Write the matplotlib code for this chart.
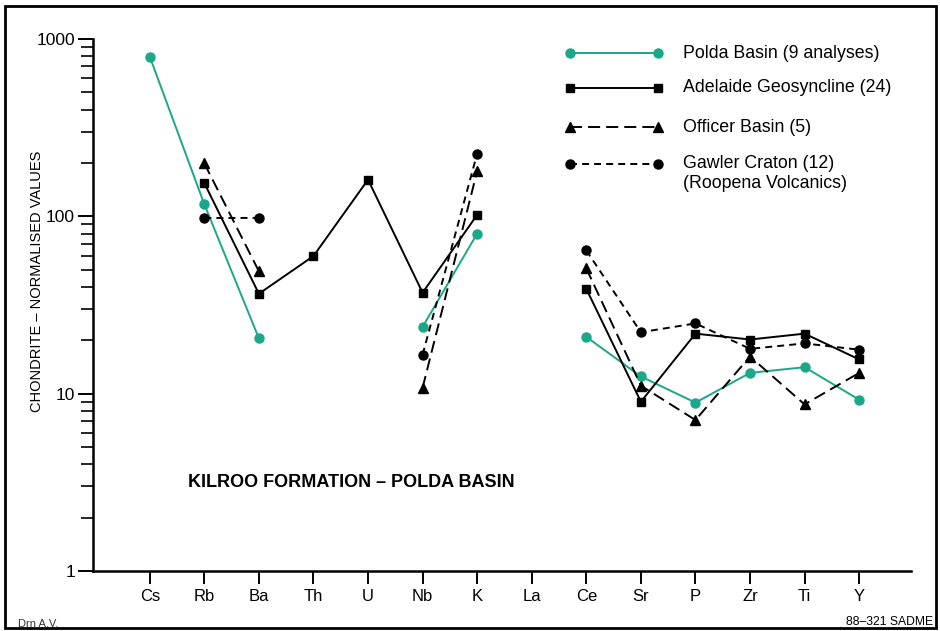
import numpy as np
import matplotlib
matplotlib.use('Agg')
import matplotlib.pyplot as plt
from matplotlib.patches import Rectangle
from matplotlib.lines import Line2D

nan = np.nan

# элементы по оси X
elements = ['Cs', 'Rb', 'Ba', 'Th', 'U', 'Nb', 'K', 'La', 'Ce', 'Sr', 'P', 'Zr', 'Ti', 'Y']

# нормированные по хондриту значения (nan - нет данных, линия рвётся)
polda = [795, 117, 20.5, nan, nan, 23.8, 80, nan, 20.9, 12.5, 8.9, 13.1, 14.1, 9.25]
adelaide = [nan, 154, 36.6, 59.7, 161, 37.1, 102, nan, 39, 9.0, 21.8, 20.2, 21.8, 15.6]
officer = [nan, 199, 49, nan, nan, 10.8, 180, nan, 50.9, 11.1, 7.1, 16.2, 8.7, 13.1]
gawler = [nan, 97.8, 98, nan, nan, 16.6, 226, nan, 64.2, 22.2, 24.9, 17.9, 19.2, 17.7]

labels = ['Polda Basin (9 analyses)', 'Adelaide Geosyncline (24)',
          'Officer Basin (5)', 'Gawler Craton (12)']

green = '#1aa889'
plt.rcParams['font.family'] = ['Liberation Sans', 'DejaVu Sans']

fig = plt.figure(figsize=(9.4, 6.31), dpi=100)
ax = fig.add_axes([93 / 940, 1 - 571 / 631, 818 / 940, 532 / 631])

x = np.arange(len(elements))
lw = 1.4
styles = [
    dict(color=green, marker='o', ms=6.5, ls='-'),
    dict(color='black', marker='s', ms=5.5, ls='-'),
    dict(color='black', marker='^', ms=6.5, ls=(0, (6.2, 3.1))),
    dict(color='black', marker='o', ms=6.5, ls=(0, (3.6, 2.6))),
]
series = [polda, adelaide, officer, gawler]
for vals, st in zip(series, styles):
    ax.plot(x, vals, lw=lw, clip_on=False, **st)

ax.set_yscale('log')
ax.set_ylim(1, 1000)
ax.set_xlim(-1.04, 13.95)
ax.set_xticks(x)
ax.set_xticklabels(elements, fontsize=12)
ax.set_yticks([1, 10, 100, 1000])
ax.set_yticklabels(['1', '10', '100', '1000'], fontsize=12.5)
ax.tick_params(axis='x', direction='out', length=9, width=1.4, pad=4)
ax.tick_params(axis='y', which='major', direction='out', length=11, width=1.4, pad=2)
ax.tick_params(axis='y', which='minor', direction='out', length=9, width=1.2)
for s in ['top', 'right']:
    ax.spines[s].set_visible(False)
for s in ['left', 'bottom']:
    ax.spines[s].set_linewidth(1.8)

ax.set_ylabel('CHONDRITE – NORMALISED VALUES', fontsize=10.5)
ax.yaxis.set_label_coords(-0.06, 0.545)

ax.text(0.116, 0.167, 'KILROO FORMATION – POLDA BASIN', transform=ax.transAxes,
        fontsize=13, fontweight='bold', va='center', ha='left')

# легенда вручную: линия с маркерами на концах и подпись справа
leg_y = [53, 88, 127, 164]
for st, lab, yp in zip(styles, labels, leg_y):
    yf = 1 - yp / 631
    fig.add_artist(Line2D([570 / 940, 658 / 940], [yf, yf], lw=lw, **st))
    fig.text(683 / 940, yf, lab, fontsize=12.8, va='center', ha='left')
fig.text(683 / 940, 1 - 183 / 631, '(Roopena Volcanics)', fontsize=12.8, va='center', ha='left')

# подписи в углах и рамка
fig.text(18 / 940, 1 - 624 / 631, 'Drn A.V.', fontsize=8, va='center', color='#333333')
fig.text(933 / 940, 1 - 622 / 631, '88–321 SADME', fontsize=8.7, va='center', ha='right')
fig.patches.append(Rectangle((5 / 940, 3 / 631), 931 / 940, 622 / 631, fill=False,
                             lw=2, edgecolor='black', transform=fig.transFigure, figure=fig))

fig.savefig('out.png', dpi=100)
